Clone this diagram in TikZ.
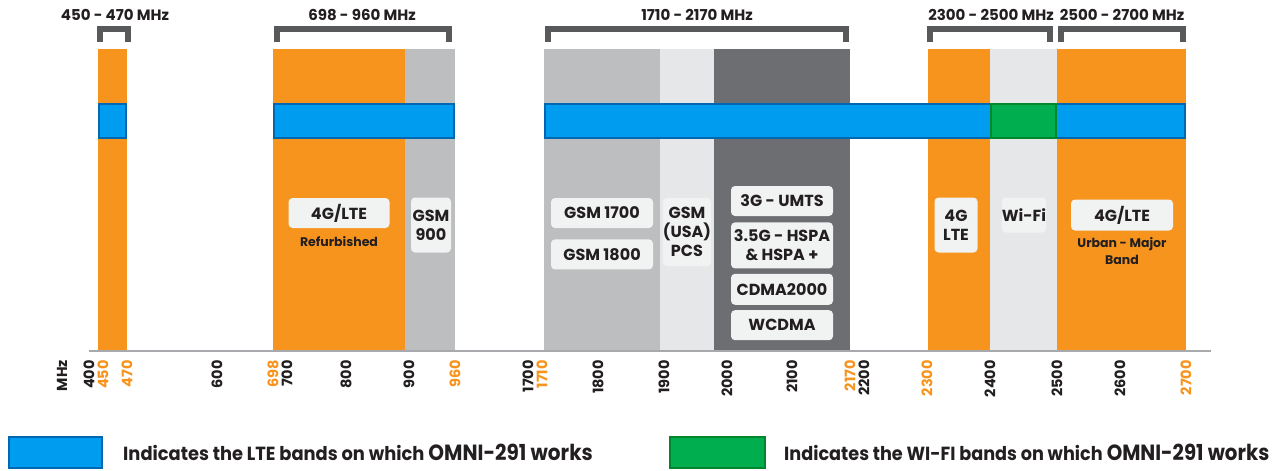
\documentclass[tikz,border=0pt]{standalone}
\usepackage{fontspec}
\setmainfont{Poppins}
\usetikzlibrary{positioning}

\definecolor{bandorange}{HTML}{F7941D}
\definecolor{bandgray}{HTML}{BCBEC0}
\definecolor{bandlight}{HTML}{E6E7E8}
\definecolor{banddark}{HTML}{6D6E71}
\definecolor{ltefill}{HTML}{009CEF}
\definecolor{lteedge}{HTML}{0067B1}
\definecolor{wififill}{HTML}{00AD4F}
\definecolor{wifiedge}{HTML}{00872E}
\definecolor{bracegray}{HTML}{58595B}
\definecolor{tagfill}{HTML}{F1F2F2}
\definecolor{axisgray}{HTML}{A7A9AC}
\definecolor{textdark}{HTML}{231F20}

\tikzset{
	tagbox/.style={fill=tagfill, rounded corners=4pt, inner sep=0pt, align=center, text=textdark,
		font=\bfseries\fontsize{16}{19}\selectfont},
	subtag/.style={inner sep=0pt, align=center, text=textdark, font=\bfseries\fontsize{12.5}{17}\selectfont},
	rangelabel/.style={inner sep=0pt, text=textdark, font=\bfseries\fontsize{15}{15}\selectfont},
	brace/.style={line width=6pt, bracegray, line join=miter},
	freqlabel/.style={rotate=90, anchor=east, inner sep=0pt, font=\bfseries\fontsize{14.5}{14.5}\selectfont},
	lteband/.style={fill=ltefill, draw=lteedge, line width=2pt},
	wifiband/.style={fill=wififill, draw=wifiedge, line width=2pt},
	keytext/.style={inner sep=0pt, anchor=west, text=textdark, font=\bfseries\fontsize{19}{19}\selectfont}
}

\begin{document}
\begin{tikzpicture}[x=1pt,y=-1pt]
	\useasboundingbox (0,0) rectangle (1278,471);
	% bands
	\fill[bandorange] (98,49) rectangle (127,350);
	\fill[bandorange] (273,49) rectangle (405,350);
	\fill[bandgray] (405,49) rectangle (455,350);
	\fill[bandgray] (544,49) rectangle (660,350);
	\fill[bandlight] (660,49) rectangle (714,350);
	\fill[banddark] (714,49) rectangle (850,350);
	\fill[bandorange] (928,49) rectangle (990,350);
	\fill[bandlight] (990,49) rectangle (1057,350);
	\fill[bandorange] (1057,49) rectangle (1186,350);
	% where OMNI-291 works
	\draw[lteband] (99,104) rectangle (126,138);
	\draw[lteband] (274,104) rectangle (454,138);
	\draw[lteband] (545,104) rectangle (1185,138);
	\draw[wifiband] (991,104) rectangle (1056,138);
	% axis
	\draw[axisgray, line width=2pt] (89,351) -- (1211,351);
	% brackets
	\draw[brace] (99.5,42) |- (127.5,28.5) -- (127.5,42);
	\draw[brace] (276.5,42) |- (448.5,28.5) -- (448.5,42);
	\draw[brace] (547.5,42) |- (845.5,28.5) -- (845.5,42);
	\draw[brace] (929.5,42) |- (1049.5,28.5) -- (1049.5,42);
	\draw[brace] (1060.5,42) |- (1182.5,28.5) -- (1182.5,42);
	\node[rangelabel] (r450) at (115,15) {450 - 470 MHz};
	\node[rangelabel] (r698) at (362,15) {698 - 960 MHz};
	\node[rangelabel] (r1710) at (697,15) {1710 - 2170 MHz};
	\node[rangelabel] (r2300) at (991,15) {2300 - 2500 MHz};
	\node[rangelabel] (r2500) at (1122,15) {2500 - 2700 MHz};
	% band tags
	\node[tagbox, minimum width=101pt, minimum height=30pt] (lteref) at (339,213) {4G/LTE};
	\node[subtag, below=8pt of lteref] (refurb) {Refurbished};
	\node[tagbox, minimum width=40pt, minimum height=55pt] (gsm900) at (431,225) {GSM\\900};
	\node[tagbox, minimum width=102pt, minimum height=30pt] (gsm1700) at (602,213) {GSM 1700};
	\node[tagbox, minimum width=102pt, minimum height=30pt, below=11pt of gsm1700] (gsm1800) {GSM 1800};
	\node[tagbox, minimum width=48pt, minimum height=68pt] (pcs) at (687,232) {GSM\\(USA)\\PCS};
	\node[tagbox, minimum width=102pt, minimum height=30pt] (umts) at (782,201) {3G - UMTS};
	\node[tagbox, minimum width=102pt, minimum height=46pt, below=6pt of umts] (hspa) {3.5G - HSPA\\\& HSPA +};
	\node[tagbox, minimum width=102pt, minimum height=31pt, below=5pt of hspa] (cdma) {CDMA2000};
	\node[tagbox, minimum width=102pt, minimum height=30pt, below=5pt of cdma] (wcdma) {WCDMA};
	\node[tagbox, minimum width=43pt, minimum height=55pt] (lte2300) at (956,225) {4G\\LTE};
	\node[tagbox, minimum width=44pt, minimum height=35pt] (wifi) at (1024,215) {Wi-Fi};
	\node[tagbox, minimum width=102pt, minimum height=31pt] (lteurban) at (1122,215) {4G/LTE};
	\node[subtag, below=7pt of lteurban] (urban) {Urban - Major\\Band};
	% axis labels
	\node[freqlabel, text=textdark] (mhz) at (62,360) {MHz};
	\foreach \f/\x/\c in {400/89/textdark, 450/103/bandorange, 470/127/bandorange, 600/217/textdark,
			698/273/bandorange, 700/287/textdark, 800/346/textdark, 900/409/textdark, 960/455/bandorange,
			1700/528/textdark, 1710/542/bandorange, 1800/598/textdark, 1900/664/textdark, 2000/727/textdark,
			2100/792/textdark, 2170/850/bandorange, 2200/864/textdark, 2300/927/bandorange, 2400/990/textdark,
			2500/1057/textdark, 2600/1120/textdark, 2700/1186/bandorange}
		\node[freqlabel, text=\c] (f\f) at (\x,360) {\f};
	% legend
	\node[lteband, minimum width=93pt, minimum height=31pt, inner sep=0pt] (keylte) at (55.5,452.5) {};
	\node[keytext, right=20pt of keylte] (keyltetext)
		{\scalebox{0.94}[1]{Indicates the LTE bands on which} \scalebox{0.91}[1]{\fontsize{22}{22}\selectfont OMNI-291 works}};
	\node[wifiband, minimum width=95pt, minimum height=31pt, inner sep=0pt] (keywifi) at (717.5,452.5) {};
	\node[keytext, right=18pt of keywifi] (keywifitext)
		{\scalebox{0.93}[1]{Indicates the WI-FI bands on which} \scalebox{0.9}[1]{\fontsize{22}{22}\selectfont OMNI-291 works}};
\end{tikzpicture}
\end{document}
